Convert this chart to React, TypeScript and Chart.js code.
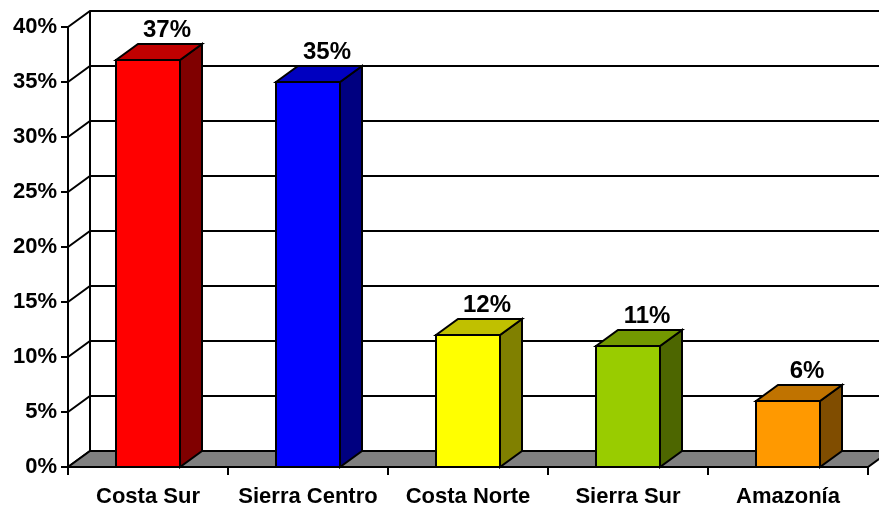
import React, { useEffect, useRef } from "react";
import { Chart, registerables } from "chart.js";

Chart.register(...registerables);

const categories = ["Costa Sur", "Sierra Centro", "Costa Norte", "Sierra Sur", "Amazonía"];
const values = [37, 35, 12, 11, 6];
const valueLabels = ["37%", "35%", "12%", "11%", "6%"];
const yTicks = [0, 5, 10, 15, 20, 25, 30, 35, 40];
const frontColors = ["#FF0000", "#0000FF", "#FFFF00", "#99CC00", "#FF9900"];
const topColors = ["#C00000", "#0000C0", "#C0C000", "#739900", "#C07300"];
const sideColors = ["#800000", "#000080", "#808000", "#4D6600", "#804D00"];

const DX = 22;
const DY = -16;
const FONT = "'Liberation Sans', Arial, sans-serif";

const threeD = {
  id: "threeD",
  beforeDatasetsDraw(chart: any) {
    const { ctx, chartArea, scales } = chart;
    const ys = scales.y;
    const xs = scales.x;
    const L = chartArea.left;
    const R = chartArea.right;
    const B = ys.getPixelForValue(0);
    ctx.save();
    ctx.strokeStyle = "#000";
    ctx.lineWidth = 2;
    ctx.lineCap = "butt";
    for (const t of yTicks) {
      const y = ys.getPixelForValue(t);
      ctx.beginPath();
      ctx.moveTo(L, y);
      ctx.lineTo(L + DX, y + DY);
      ctx.lineTo(R + DX, y + DY);
      ctx.stroke();
      ctx.beginPath();
      ctx.moveTo(L - 7, y);
      ctx.lineTo(L, y);
      ctx.stroke();
    }
    const top = ys.getPixelForValue(40);
    ctx.beginPath();
    ctx.moveTo(L, top);
    ctx.lineTo(L, B);
    ctx.stroke();
    ctx.beginPath();
    ctx.moveTo(L + DX, top + DY);
    ctx.lineTo(L + DX, B + DY);
    ctx.stroke();
    ctx.beginPath();
    ctx.moveTo(L, B);
    ctx.lineTo(R, B);
    ctx.lineTo(R + DX, B + DY);
    ctx.lineTo(L + DX, B + DY);
    ctx.closePath();
    ctx.fillStyle = "#808080";
    ctx.fill();
    ctx.stroke();
    const n = categories.length;
    const step = (R - L) / n;
    for (let i = 0; i <= n; i++) {
      const x = i < n ? xs.getPixelForValue(i) - step / 2 : xs.getPixelForValue(n - 1) + step / 2;
      ctx.beginPath();
      ctx.moveTo(x, B);
      ctx.lineTo(x, B + 8);
      ctx.stroke();
    }
    ctx.restore();
  },
  afterDatasetsDraw(chart: any) {
    const { ctx } = chart;
    const meta = chart.getDatasetMeta(0);
    ctx.save();
    ctx.strokeStyle = "#000";
    ctx.lineWidth = 2;
    ctx.lineJoin = "miter";
    meta.data.forEach((bar: any, i: number) => {
      const { x, y, base, width } = bar.getProps(["x", "y", "base", "width"], true);
      const l = x - width / 2;
      const r = x + width / 2;
      ctx.beginPath();
      ctx.moveTo(r, y);
      ctx.lineTo(r + DX, y + DY);
      ctx.lineTo(r + DX, base + DY);
      ctx.lineTo(r, base);
      ctx.closePath();
      ctx.fillStyle = sideColors[i];
      ctx.fill();
      ctx.stroke();
      ctx.beginPath();
      ctx.moveTo(l, y);
      ctx.lineTo(l + DX, y + DY);
      ctx.lineTo(r + DX, y + DY);
      ctx.lineTo(r, y);
      ctx.closePath();
      ctx.fillStyle = topColors[i];
      ctx.fill();
      ctx.stroke();
      ctx.beginPath();
      ctx.rect(l, y, width, base - y);
      ctx.fillStyle = frontColors[i];
      ctx.fill();
      ctx.stroke();
      ctx.fillStyle = "#000";
      ctx.font = `bold 24px ${FONT}`;
      ctx.textAlign = "center";
      ctx.textBaseline = "alphabetic";
      ctx.fillText(valueLabels[i], x + 19, y + DY - 7);
    });
    ctx.restore();
  },
};

export default function App() {
  const ref = useRef<HTMLCanvasElement>(null);
  useEffect(() => {
    document.body.style.margin = "0";
    const chart = new Chart(ref.current!, {
      type: "bar",
      data: {
        labels: categories,
        datasets: [
          {
            data: values,
            backgroundColor: frontColors,
            borderWidth: 0,
            categoryPercentage: 1,
            barPercentage: 0.4,
          },
        ],
      },
      options: {
        responsive: false,
        animation: false,
        layout: { padding: { top: 27, right: 11, left: 0, bottom: 0 } },
        plugins: { legend: { display: false }, tooltip: { enabled: false } },
        scales: {
          y: {
            min: 0,
            max: 40,
            grid: { display: false, drawTicks: false },
            border: { display: false },
            ticks: {
              stepSize: 5,
              padding: 11,
              color: "#000",
              font: { family: FONT, size: 22, weight: "bold" },
              callback: (v: any) => `${v}%`,
            },
            afterFit: (s: any) => {
              s.width = 68;
            },
          },
          x: {
            grid: { display: false, drawTicks: false },
            border: { display: false },
            ticks: {
              padding: 17,
              color: "#000",
              maxRotation: 0,
              autoSkip: false,
              font: { family: FONT, size: 22, weight: "bold" },
            },
            afterFit: (s: any) => {
              s.height = 40;
            },
          },
        },
      },
      plugins: [threeD],
    });
    return () => chart.destroy();
  }, []);
  return (
    <canvas
      ref={ref}
      width={879}
      height={507}
      style={{ display: "block", position: "absolute", left: 0, top: 0, background: "#fff" }}
    />
  );
}
